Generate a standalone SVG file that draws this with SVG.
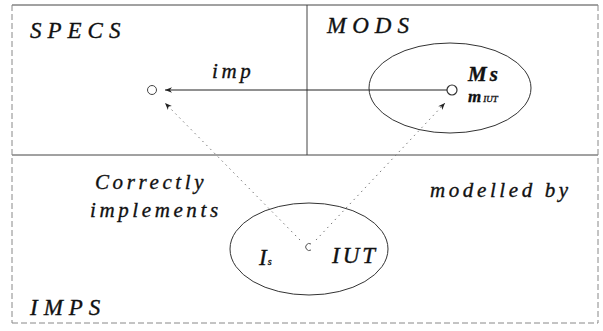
<svg xmlns="http://www.w3.org/2000/svg" width="603" height="331" viewBox="0 0 603 331">
<defs>
<style>
.t{font-family:"Liberation Serif","Times New Roman",serif;font-style:italic;fill:#111;stroke:#111;stroke-width:0.35;}
.big{font-size:23px;letter-spacing:6px;}
.mid{font-size:21px;letter-spacing:3.6px;}
.frame{stroke:#444;stroke-width:1;fill:none;}
.faint{stroke:#888;stroke-width:1;fill:none;stroke-dasharray:6 3;}
.conn{stroke:#222;stroke-width:1;fill:none;}
.dot{stroke:#777;stroke-width:1;fill:none;stroke-dasharray:1.5 4;}
.ell{stroke:#333;stroke-width:1;fill:none;}
</style>
<marker id="ah2" viewBox="0 0 10 10" refX="10" refY="5" markerWidth="8" markerHeight="7" orient="auto" markerUnits="userSpaceOnUse">
<path d="M0,1 L10,5 L0,9 L3,5 Z" fill="#222"/>
</marker>
</defs>
<g id="frame">
<line class="frame" x1="12" y1="5" x2="598" y2="5"/>
<line class="frame" x1="12" y1="155" x2="598" y2="155"/>
<line class="frame" x1="307" y1="5" x2="307" y2="155"/>
<line class="faint" x1="12" y1="5" x2="12" y2="323"/>
<line class="faint" x1="598" y1="5" x2="598" y2="323"/>
<line class="faint" x1="12" y1="323" x2="598" y2="323"/>
</g>
<g id="specs">
<text class="t big" x="30" y="38">SPECS</text>
<circle cx="152" cy="90" r="4.5" fill="#fff" stroke="#444" stroke-width="1"/>
</g>
<g id="mods">
<text class="t big" x="327" y="33">MODS</text>
<ellipse class="ell" cx="450" cy="88" rx="81" ry="45"/>
<circle cx="452" cy="90" r="5" fill="#fff" stroke="#333" stroke-width="1.2"/>
<text class="t" x="468" y="81" style="font-size:21px;font-weight:bold;letter-spacing:3px">Ms</text>
<text class="t" x="468" y="102" style="font-size:17px;font-weight:bold">m<tspan style="font-size:9px;font-weight:normal" dx="2">IUT</tspan></text>
</g>
<g id="imps">
<text class="t big" x="30" y="315">IMPS</text>
<ellipse class="ell" cx="309" cy="249" rx="79" ry="46"/>
<path d="M311,244 A3.5,3.5 0 1 0 311,250" fill="none" stroke="#555" stroke-width="1"/>
<text class="t" x="259" y="265" style="font-size:23px">I<tspan style="font-size:10px" dx="1">s</tspan></text>
<text class="t" x="332" y="263" style="font-size:23px;letter-spacing:3px">IUT</text>
</g>
<g id="connectors">
<line class="conn" x1="447" y1="90" x2="165" y2="90" marker-end="url(#ah2)"/>
<line class="dot" x1="300" y1="240" x2="165" y2="103" marker-end="url(#ah2)"/>
<line class="dot" x1="316" y1="240" x2="445" y2="103" marker-end="url(#ah2)"/>
</g>
<g id="labels">
<text class="t mid" x="212" y="78">imp</text>
<text class="t mid" x="95" y="189">Correctly</text>
<text class="t mid" x="90" y="217">implements</text>
<text class="t mid" x="430" y="197">modelled by</text>
</g>
</svg>
